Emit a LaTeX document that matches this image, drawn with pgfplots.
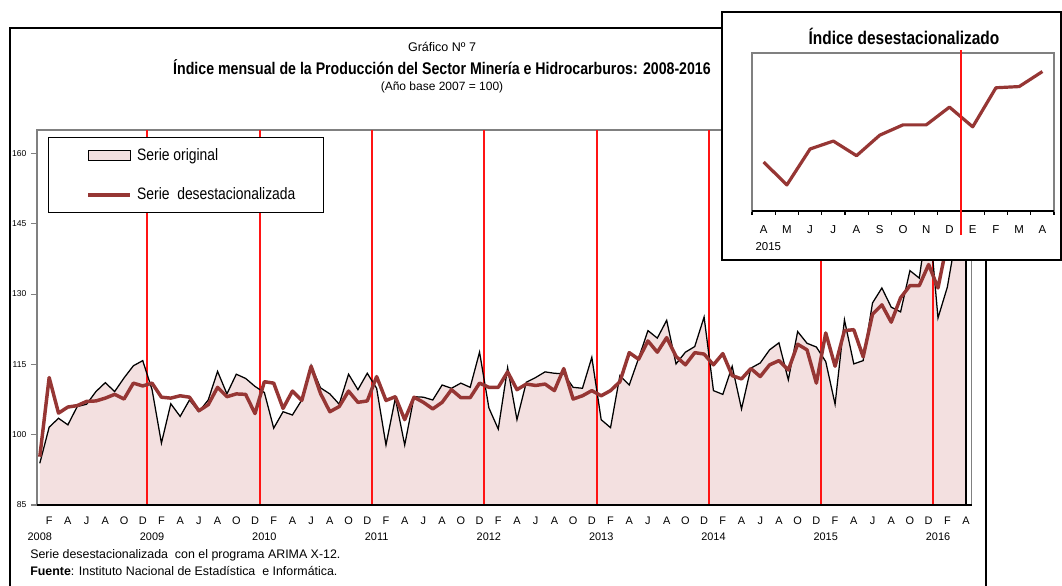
\documentclass[border=0pt]{standalone}
\usepackage{fontspec}
\setmainfont{Liberation Sans}
\newfontfamily\narrow{Liberation Sans}[FakeStretch=0.84]
\usepackage{pgfplots}
\usepackage{pgfplotstable}
\pgfplotsset{compat=1.18}

\definecolor{areafill}{RGB}{243,224,224}
\definecolor{desest}{RGB}{150,54,52}
\definecolor{framegray}{RGB}{128,128,128}
\definecolor{yearred}{RGB}{255,20,20}

% indice mensual, ene 2008 = 0 ... abr 2016 = 99
\pgfplotstableread{
idx orig des
0 93.9 95.3
1 101.6 112.2
2 103.5 104.6
3 102.1 105.9
4 106.0 106.2
5 106.5 107.1
6 109.2 107.2
7 111.1 107.8
8 109.2 108.6
9 112.1 107.6
10 114.7 111.0
11 115.8 110.4
12 109.6 111.0
13 98.2 108.0
14 106.6 107.8
15 103.9 108.3
16 107.4 108.0
17 104.9 105.1
18 107.4 106.4
19 113.5 110.1
20 108.7 108.1
21 112.9 108.7
22 112.0 108.6
23 110.3 104.5
24 109.0 111.3
25 101.4 111.0
26 104.9 105.6
27 104.2 109.3
28 107.4 107.3
29 114.8 114.6
30 110.0 108.8
31 108.7 104.9
32 106.5 106.0
33 112.9 109.3
34 109.6 106.9
35 113.1 107.2
36 109.9 112.4
37 97.8 107.3
38 107.8 108.1
39 97.8 103.2
40 108.1 108.0
41 108.0 106.9
42 107.4 105.5
43 110.6 106.9
44 109.9 109.6
45 111.0 107.9
46 110.1 107.9
47 117.6 111.0
48 105.7 110.1
49 101.2 110.1
50 114.3 113.4
51 103.2 109.6
52 111.2 110.8
53 112.2 110.5
54 113.4 110.8
55 113.1 109.4
56 113.0 114.1
57 110.1 107.6
58 109.9 108.3
59 116.5 109.4
60 103.2 108.3
61 101.5 109.4
62 112.6 111.3
63 110.6 117.5
64 116.3 116.1
65 122.2 120.0
66 120.6 117.6
67 124.4 120.7
68 115.1 116.7
69 117.6 114.9
70 118.8 117.5
71 125.1 117.2
72 109.4 114.9
73 108.6 117.3
74 114.6 112.6
75 105.5 111.9
76 114.2 114.1
77 115.3 112.4
78 118.1 114.9
79 119.6 115.8
80 111.7 113.8
81 122.0 119.3
82 119.5 118.1
83 118.7 111.0
84 115.6 121.7
85 106.5 114.6
86 124.5 122.2
87 115.1 122.4
88 115.8 116.6
89 128.1 125.7
90 131.3 127.7
91 127.2 124.0
92 126.2 129.2
93 135.0 131.8
94 133.4 131.8
95 147.5 136.3
96 124.9 131.3
97 131.5 141.2
98 143.0 141.5
99 139.0 145.3
}\datos

% recuadro: abr 2015 - abr 2016
\pgfplotstableread{
idx des
0 122.4
1 116.6
2 125.7
3 127.7
4 124.0
5 129.2
6 131.8
7 131.8
8 136.3
9 131.3
10 141.2
11 141.5
12 145.3
}\recuadro

\begin{document}
\begin{tikzpicture}
\useasboundingbox (0,0) rectangle (796.5pt,438.75pt);

% marco exterior
\draw[black, line width=1.2pt] (7.5pt,-2pt) -- (7.5pt,417.75pt) -- (739.5pt,417.75pt) -- (739.5pt,-2pt);

% titulos
\node[font=\fontsize{9.4}{11}\selectfont] at (331.5pt,403.5pt) {Gráfico Nº 7};
\node[font=\narrow\bfseries\fontsize{12.65}{14}\selectfont] at (331.5pt,388.5pt)
  {Índice mensual de la Producción del Sector Minería e Hidrocarburos: 2008-2016};
\node[font=\fontsize{9}{11}\selectfont] at (331.5pt,373.5pt) {(Año base 2007 = 100)};

\begin{axis}[
  at={(27.75pt,60pt)}, anchor=south west,
  width=701pt, height=281.25pt, scale only axis,
  xmin=-0.3, xmax=99.6, ymin=85, ymax=165,
  clip mode=individual,
  axis line style={framegray, line width=0.8pt},
  xtick={1,3,...,99},
  xticklabels={F,A,J,A,O,D,F,A,J,A,O,D,F,A,J,A,O,D,F,A,J,A,O,D,
               F,A,J,A,O,D,F,A,J,A,O,D,F,A,J,A,O,D,F,A,J,A,O,D,F,A},
  major x tick style={draw=none},
  minor xtick={5.5,17.5,...,89.5},
  minor x tick style={black, line width=0.8pt},
  minor tick length=3pt,
  xtick align=inside,
  ytick={85,100,...,160},
  ytick align=outside,
  major tick length=4.5pt,
  y tick style={framegray, line width=0.8pt},
  xtick pos=bottom, ytick pos=left,
  xticklabel style={font=\fontsize{8.2}{9}\selectfont, yshift=-5.5pt},
  yticklabel style={font=\fontsize{6.4}{7}\selectfont},
  /pgf/number format/assume math mode=true,
  legend style={at={(0.0118,0.981)}, anchor=north west,
    draw=black, line width=1pt, fill=white,
    inner xsep=21pt, inner ysep=7.75pt,
    row sep=17.75pt,
    nodes={inner sep=0pt, text height=9pt, text depth=2.5pt},
    /tikz/every odd column/.append style={column sep=3.75pt},
    font=\narrow\fontsize{12.4}{14}\selectfont},
  legend cell align=left,
]
\addplot[fill=areafill, draw=none,
  legend image code/.code={\path (-7.5pt,0pt);
    \draw[fill=areafill, draw=black, line width=0.9pt] (0pt,-3.75pt) rectangle (31.5pt,3.75pt);}]
  table[x=idx, y=orig] {\datos} \closedcycle;
\addlegendentry{Serie original}

% lineas de fin de año
\draw[yearred, line width=1.5pt] (axis cs:11.5,85) -- (axis cs:11.5,165);
\draw[yearred, line width=1.5pt] (axis cs:23.5,85) -- (axis cs:23.5,165);
\draw[yearred, line width=1.5pt] (axis cs:35.5,85) -- (axis cs:35.5,165);
\draw[yearred, line width=1.5pt] (axis cs:47.5,85) -- (axis cs:47.5,165);
\draw[yearred, line width=1.5pt] (axis cs:59.5,85) -- (axis cs:59.5,165);
\draw[yearred, line width=1.5pt] (axis cs:71.5,85) -- (axis cs:71.5,165);
\draw[yearred, line width=1.5pt] (axis cs:83.5,85) -- (axis cs:83.5,165);
\draw[yearred, line width=1.5pt] (axis cs:95.5,85) -- (axis cs:95.5,165);

\addplot[black, line width=0.95pt, forget plot] table[x=idx, y=orig] {\datos};
\addplot[black, line width=0.95pt, forget plot] coordinates {(99,139.0) (99,85)};

\addplot[desest, line width=2.6pt, line join=round,
  legend image code/.code={\path (-7.5pt,0pt);
    \draw[desest, line width=2.6pt] (0pt,0pt) -- (31.5pt,0pt);}]
  table[x=idx, y=des] {\datos};
\addlegendentry{Serie\ \ desestacionalizada}

\draw[black, line width=1pt] (rel axis cs:0,0) -- (rel axis cs:1,0);

\node[font=\fontsize{8.2}{9}\selectfont, yshift=-24pt] at (axis cs:0,85) {2008};
\node[font=\fontsize{8.2}{9}\selectfont, yshift=-24pt] at (axis cs:12,85) {2009};
\node[font=\fontsize{8.2}{9}\selectfont, yshift=-24pt] at (axis cs:24,85) {2010};
\node[font=\fontsize{8.2}{9}\selectfont, yshift=-24pt] at (axis cs:36,85) {2011};
\node[font=\fontsize{8.2}{9}\selectfont, yshift=-24pt] at (axis cs:48,85) {2012};
\node[font=\fontsize{8.2}{9}\selectfont, yshift=-24pt] at (axis cs:60,85) {2013};
\node[font=\fontsize{8.2}{9}\selectfont, yshift=-24pt] at (axis cs:72,85) {2014};
\node[font=\fontsize{8.2}{9}\selectfont, yshift=-24pt] at (axis cs:84,85) {2015};
\node[font=\fontsize{8.2}{9}\selectfont, yshift=-24pt] at (axis cs:96,85) {2016};
\end{axis}

% pie
\node[anchor=west, inner sep=0pt, font=\fontsize{9.3}{11}\selectfont] at (22.5pt,22.5pt)
  {Serie desestacionalizada\ \ con el programa ARIMA X-12.};
\node[anchor=west, inner sep=0pt, font=\fontsize{9.3}{11}\selectfont] at (22.5pt,10.5pt)
  {\textbf{Fuente}: Instituto Nacional de Estadística\ \ e Informática.};

% recuadro
\filldraw[fill=white, draw=black, line width=1.5pt] (541.5pt,243.75pt) rectangle (795.75pt,429.75pt);
\node[font=\narrow\bfseries\fontsize{13.8}{15}\selectfont] at (678pt,411.75pt) {Índice desestacionalizado};

\begin{axis}[
  at={(564pt,280.5pt)}, anchor=south west,
  width=226.5pt, height=118.5pt, scale only axis,
  xmin=-0.5, xmax=12.5, ymin=110, ymax=150,
  clip mode=individual,
  axis line style={framegray, line width=1pt},
  xtick={0,...,12},
  xticklabels={A,M,J,J,A,S,O,N,D,E,F,M,A},
  major x tick style={draw=none},
  minor xtick={-0.5,0.5,...,12.5},
  minor x tick style={black, line width=0.9pt},
  minor tick length=3pt,
  xtick align=outside,
  ytick=\empty,
  xtick pos=bottom,
  xticklabel style={font=\fontsize{8.6}{10}\selectfont, yshift=-3pt},
]
\addplot[desest, line width=2.4pt, line join=round] table[x=idx, y=des] {\recuadro};
\draw[black, line width=1.1pt] (rel axis cs:0,0) -- (rel axis cs:1,0);
\draw[yearred, line width=1.1pt] (axis cs:8.5,150.8) -- (axis cs:8.5,103.9);
\node[font=\fontsize{8.6}{10}\selectfont, yshift=-27pt] at (axis cs:0.2,110) {2015};
\end{axis}
\end{tikzpicture}
\end{document}
